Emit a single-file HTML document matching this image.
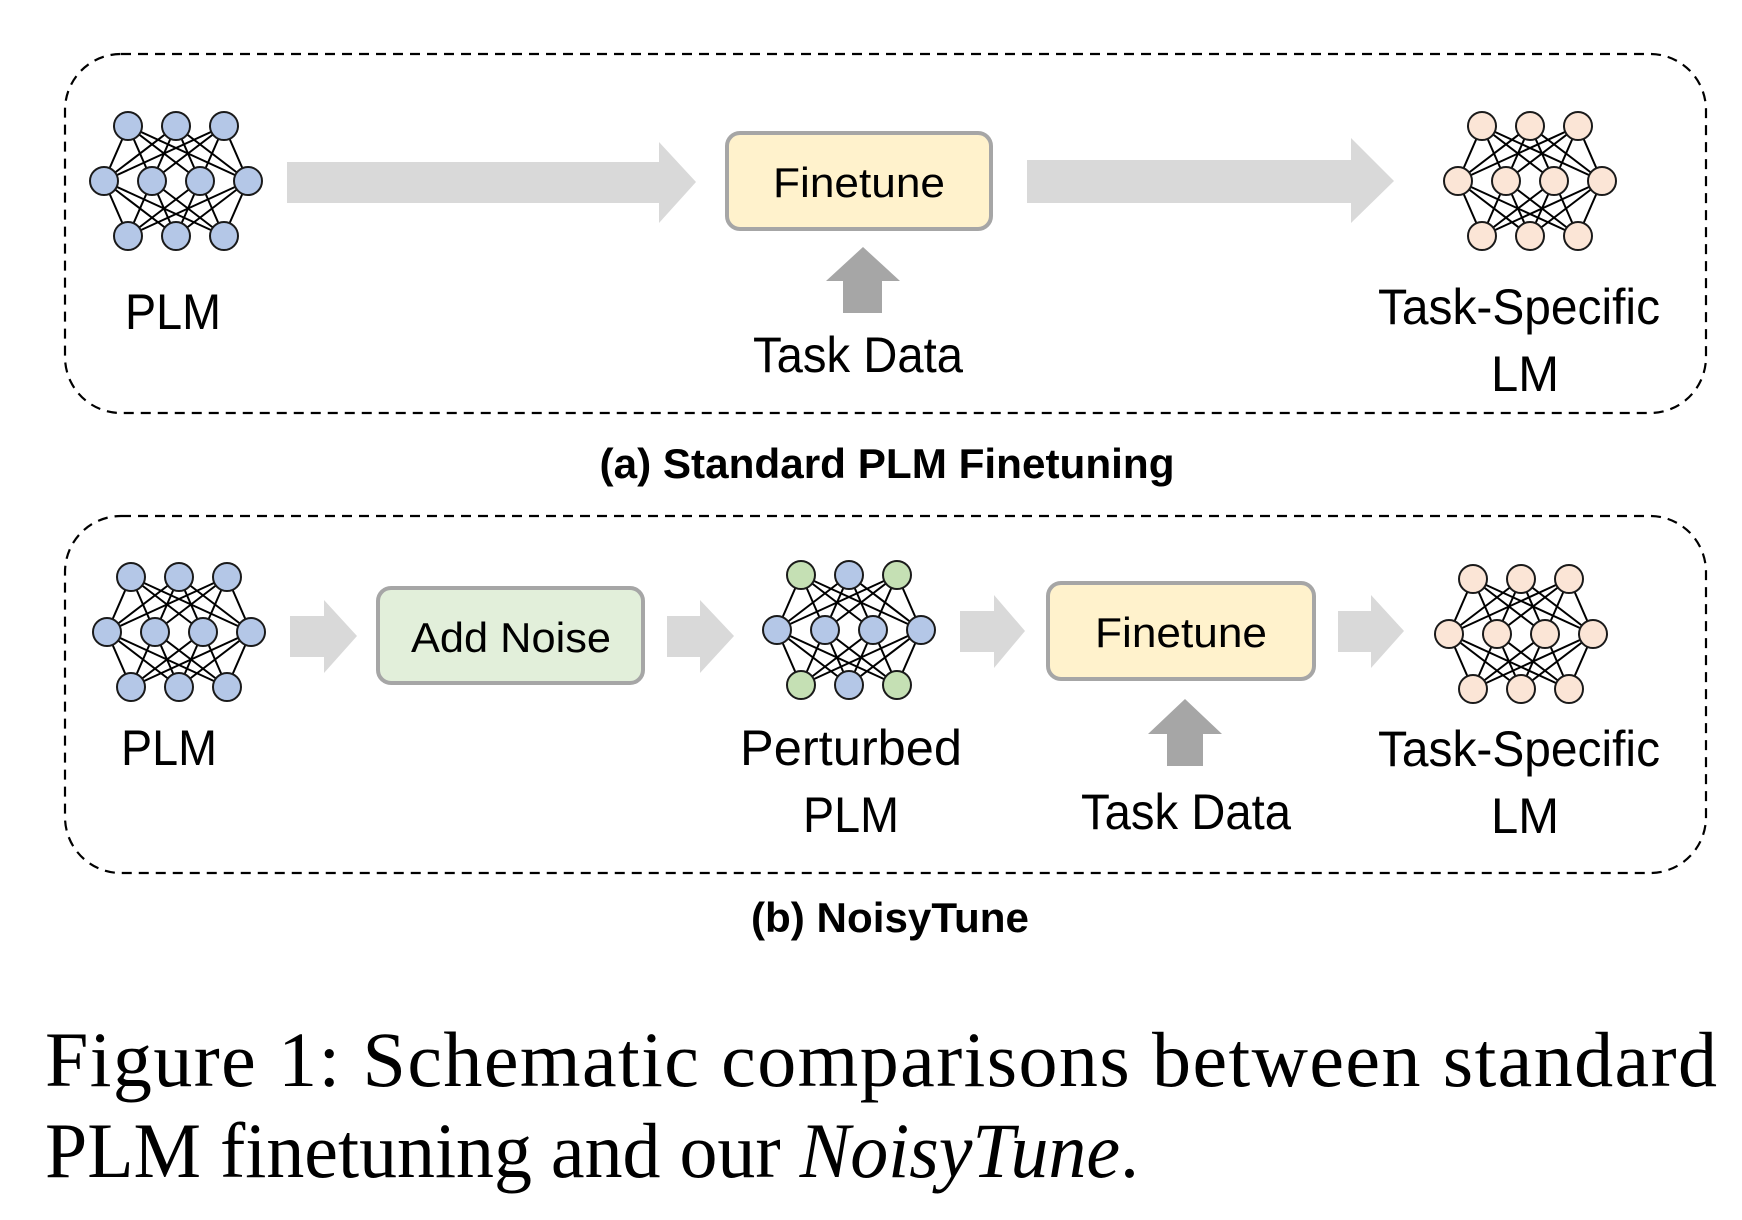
<!DOCTYPE html>
<html><head><meta charset="utf-8"><style>
html,body{margin:0;padding:0;background:#fff;}
svg{display:block;}
.s{font-family:"Liberation Sans",sans-serif;fill:#000;}
.c{font-family:"Liberation Serif",serif;fill:#000;}
</style></head><body>
<svg id="svg" width="1742" height="1220" viewBox="0 0 1742 1220" xmlns="http://www.w3.org/2000/svg">
<rect x="65" y="54" width="1641" height="359" rx="56" fill="none" stroke="#000" stroke-width="2.2" stroke-dasharray="10,7"/>
<rect x="65" y="516" width="1641" height="357" rx="56" fill="none" stroke="#000" stroke-width="2.2" stroke-dasharray="10,7"/>
<g fill="#d9d9d9">
<polygon points="287,162 659,162 659,142 696,182 659,223 659,203 287,203"/>
<polygon points="1027,160 1351,160 1351,138 1394,181 1351,223 1351,203 1027,203"/>
<polygon points="290,616 324,616 324,600 357,636 324,673 324,657 290,657"/>
<polygon points="667,616 700,616 700,600 734,636 700,673 700,657 667,657"/>
<polygon points="960,611 994,611 994,595 1025,631 994,668 994,652 960,652"/>
<polygon points="1338,611 1371,611 1371,595 1404,631 1371,668 1371,652 1338,652"/>
</g>
<g fill="#a6a6a6">
<polygon points="843,313 882,313 882,281 900,281 863,247 826,281 843,281"/>
<polygon points="1167,766 1203,766 1203,734 1222,734 1185,699 1148,734 1167,734"/>
</g>
<rect x="727" y="133" width="264" height="96" rx="13" fill="#fff2cc" stroke="#a6a6a6" stroke-width="4"/>
<rect x="378" y="588" width="265" height="95" rx="13" fill="#e2efda" stroke="#a6a6a6" stroke-width="4"/>
<rect x="1048" y="583" width="266" height="96" rx="13" fill="#fff2cc" stroke="#a6a6a6" stroke-width="4"/>
<g id="nets"></g>
<g class="s" font-size="42" text-anchor="middle">
<text x="859" y="197" textLength="172" lengthAdjust="spacingAndGlyphs">Finetune</text>
<text x="511" y="652" textLength="200" lengthAdjust="spacingAndGlyphs">Add Noise</text>
<text x="1181" y="647" textLength="172" lengthAdjust="spacingAndGlyphs">Finetune</text>
</g>
<g class="s" font-size="50" text-anchor="middle">
<text x="173" y="329" textLength="96" lengthAdjust="spacingAndGlyphs">PLM</text>
<text x="858" y="372" textLength="210" lengthAdjust="spacingAndGlyphs">Task Data</text>
<text x="1519" y="324" textLength="282" lengthAdjust="spacingAndGlyphs">Task-Specific</text>
<text x="1525" y="391" textLength="68" lengthAdjust="spacingAndGlyphs">LM</text>
<text x="169" y="765" textLength="96" lengthAdjust="spacingAndGlyphs">PLM</text>
<text x="851" y="765" textLength="222" lengthAdjust="spacingAndGlyphs">Perturbed</text>
<text x="851" y="832" textLength="96" lengthAdjust="spacingAndGlyphs">PLM</text>
<text x="1186" y="829" textLength="210" lengthAdjust="spacingAndGlyphs">Task Data</text>
<text x="1519" y="766" textLength="282" lengthAdjust="spacingAndGlyphs">Task-Specific</text>
<text x="1525" y="833" textLength="68" lengthAdjust="spacingAndGlyphs">LM</text>
</g>
<g class="s" font-size="42" font-weight="bold" text-anchor="middle">
<text x="887" y="478" textLength="575" lengthAdjust="spacingAndGlyphs">(a) Standard PLM Finetuning</text>
<text x="890" y="932" textLength="278" lengthAdjust="spacingAndGlyphs">(b) NoisyTune</text>
</g>
<g class="c" font-size="78">
<text x="45" y="1086" textLength="1672" lengthAdjust="spacing">Figure 1:  Schematic comparisons between standard</text>
<text x="45" y="1177" textLength="1094" lengthAdjust="spacingAndGlyphs">PLM finetuning and our <tspan font-style="italic">NoisyTune</tspan>.</text>
</g>
</svg>
<script>
var NS="http://www.w3.org/2000/svg",g=document.getElementById("nets");
var B="#b4c7e7",G="#c5e0b4",O="#fbe5d6";
function net(cx,cy,top,mid,bot){
 var dx=48,dy=55,r=14;
 var T=[-1,0,1].map(function(i){return [cx+i*dx,cy-dy]}),
     M=[-1.5,-0.5,0.5,1.5].map(function(i){return [cx+i*dx,cy]}),
     Bt=[-1,0,1].map(function(i){return [cx+i*dx,cy+dy]});
 function L(a,b){var l=document.createElementNS(NS,"line");l.setAttribute("x1",a[0]);l.setAttribute("y1",a[1]);l.setAttribute("x2",b[0]);l.setAttribute("y2",b[1]);l.setAttribute("stroke","#000");l.setAttribute("stroke-width","2");g.appendChild(l);}
 T.forEach(function(a){M.forEach(function(b){L(a,b)})});
 M.forEach(function(a){Bt.forEach(function(b){L(a,b)})});
 function C(p,f){var c=document.createElementNS(NS,"circle");c.setAttribute("cx",p[0]);c.setAttribute("cy",p[1]);c.setAttribute("r",r);c.setAttribute("fill",f);c.setAttribute("stroke","#1a1a1a");c.setAttribute("stroke-width","2");g.appendChild(c);}
 T.forEach(function(p,i){C(p,top[i])});M.forEach(function(p){C(p,mid)});Bt.forEach(function(p,i){C(p,bot[i])});
}
net(176,181,[B,B,B],B,[B,B,B]);
net(1530,181,[O,O,O],O,[O,O,O]);
net(179,632,[B,B,B],B,[B,B,B]);
net(849,630,[G,B,G],B,[G,B,G]);
net(1521,634,[O,O,O],O,[O,O,O]);
</script>
</body></html>
